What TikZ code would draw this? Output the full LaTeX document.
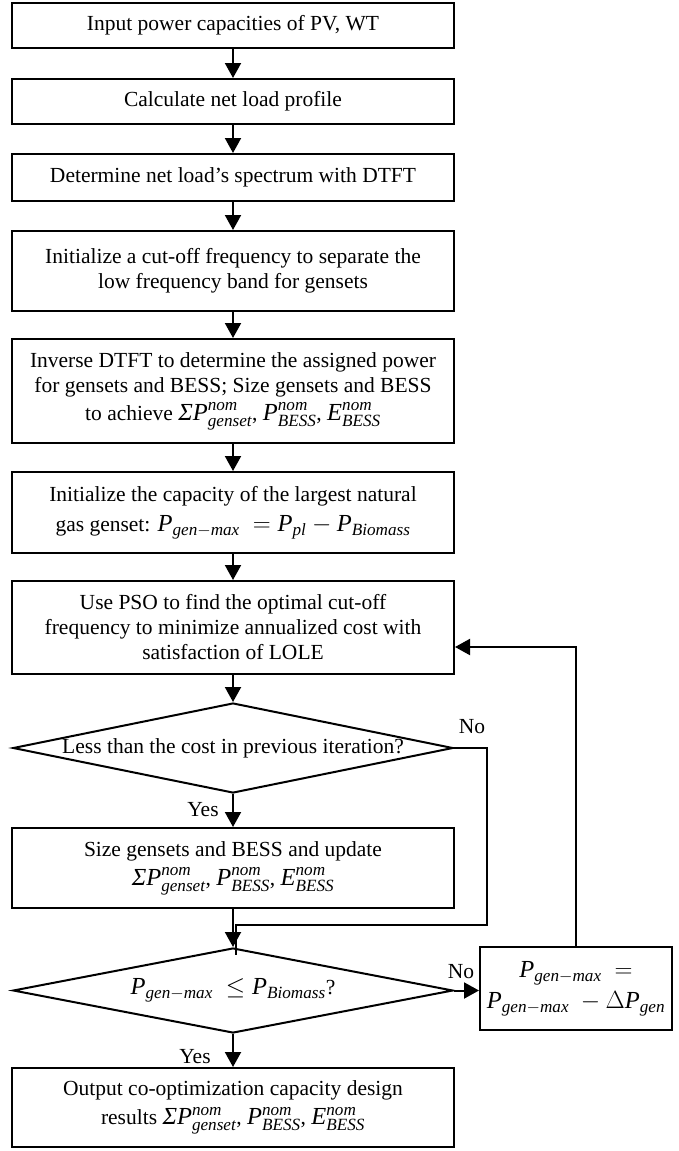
\documentclass[tikz,border=0pt]{standalone}
\usepackage{amsmath}
\usepackage{fontspec}
\setmainfont{Liberation Serif}
\usetikzlibrary{arrows.meta,shapes.geometric,calc}
\newcommand{\mi}[1]{\textit{#1}}
\newcommand{\mm}[1]{{\fontsize{24.5pt}{25pt}\selectfont$#1$}}
\newcommand{\Pg}{\mi{P}_{\mi{gen}{-}\mi{max}}}
\newcommand{\nomset}{\mm{\mi{ΣP}^{\mi{nom}}_{\mi{genset}}}, \mm{\mi{P}^{\mi{nom}}_{\mi{BESS}}}, \mm{\mi{E}^{\mi{nom}}_{\mi{BESS}}}}
\begin{document}
\begin{tikzpicture}[x=1pt,y=-1pt,
  every node/.style={font=\fontsize{21.5pt}{25pt}\selectfont},
  stepbox/.style={draw,line width=2pt,minimum width=442pt,inner sep=0pt,align=center},
  decision/.style={draw,diamond,line width=2pt,minimum width=440pt,inner sep=0pt},
  arr/.style={line width=2pt,-{Triangle[width=16pt,length=15pt]}},
  conn/.style={line width=2pt},
  lbl/.style={inner sep=0pt}]
\useasboundingbox (0,0) rectangle (678,1151);
\node[stepbox,minimum height=45pt] (b1) at (233,25.5) {Input power capacities of PV, WT};
\node[stepbox,minimum height=45pt] (b2) at (233,101.5) {Calculate net load profile};
\node[stepbox,minimum height=47pt] (b3) at (233,177.5) {Determine net load's spectrum with DTFT};
\node[stepbox,minimum height=80pt] (b4) at (233,271) {Initialize a cut-off frequency to separate the\\ low frequency band for gensets};
\node[stepbox,minimum height=104pt] (b5) at (233,391) {Inverse DTFT to determine the assigned power\\ for gensets and BESS; Size gensets and BESS\\[3pt] to achieve \nomset};
\node[stepbox,minimum height=81pt] (b6) at (233,512.5) {Initialize the capacity of the largest natural\\[5pt] gas genset: \mm{\Pg\ = \mi{P}_{\mi{pl}} - \mi{P}_{\mi{Biomass}}}};
\node[stepbox,minimum height=93pt] (b7) at (233,627.5) {Use PSO to find the optimal cut-off\\ frequency to minimize annualized cost with\\ satisfaction of LOLE};
\node[decision,minimum height=90pt,label={[lbl]center:Less than the cost in previous iteration?}] (d1) at (233,748) {};
\node[stepbox,minimum height=80pt] (b8) at (233,868) {Size gensets and BESS and update\\[4pt] \nomset};
\node[decision,minimum height=85pt,label={[lbl]center:{\mm{\Pg\ \le \mi{P}_{\mi{Biomass}}}?}}] (d2) at (233,990.5) {};
\node[stepbox,minimum height=79pt] (b9) at (233,1107.5) {Output co-optimization capacity design\\[4pt] results \nomset};
\node[draw,line width=2pt,minimum width=192pt,minimum height=83pt,inner sep=0pt,align=center] (rb) at (576,988.5) {\mm{\Pg\ =}\\[6pt] \mm{\Pg\ - \Delta\mi{P}_{\mi{gen}}}};
\coordinate (n1) at (487,925);
\coordinate (fb) at (576,647);
\draw[arr] (b1) -- (b2);
\draw[arr] (b2) -- (b3);
\draw[arr] (b3) -- (b4);
\draw[arr] (b4) -- (b5);
\draw[arr] (b5) -- (b6);
\draw[arr] (b6) -- (b7);
\draw[arr] (b7) -- (d1);
\draw[arr] (d1) -- (b8);
\draw[arr] (b8) -- (d2);
\draw[arr] (d2) -- (b9);
\draw[conn] (d1.east) -| (n1) -| ([xshift=3pt,yshift=-8pt]d2.north);
\draw[arr] (d2.east) -- (rb.west |- d2.east);
\draw[arr] (rb.north) -- (fb) -- (fb -| b7.east);
\node[lbl] (no1) at (472,727) {No};
\node[lbl] (yes1) at (203,810) {Yes};
\node[lbl] (no2) at (461,972) {No};
\node[lbl] (yes2) at (195,1057) {Yes};
\end{tikzpicture}
\end{document}
